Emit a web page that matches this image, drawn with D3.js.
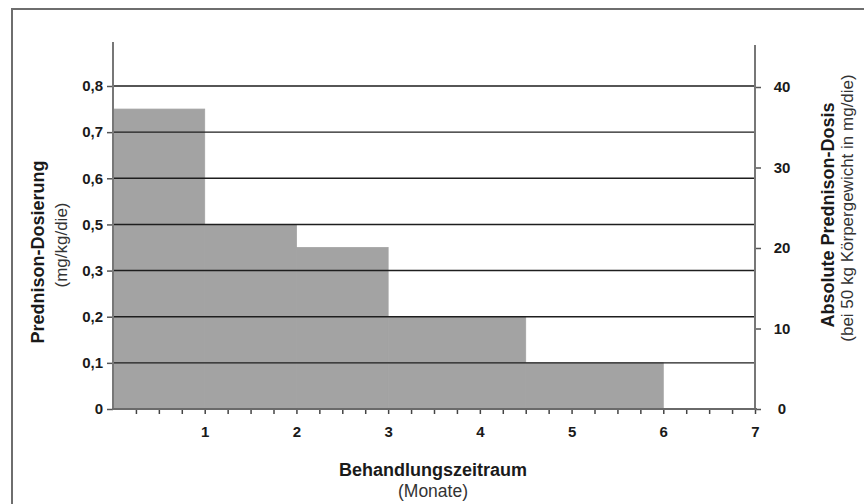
<!DOCTYPE html>
<html>
<head>
<meta charset="utf-8">
<script src="https://cdn.jsdelivr.net/npm/d3@7"></script>
<style>
  html, body { margin: 0; padding: 0; background: #fff; }
  svg { display: block; font-family: "Liberation Sans", Arial, sans-serif; }
</style>
</head>
<body>
<svg id="chart" width="864" height="504"></svg>
<script>
// ---- data ----
const barStart = [0, 1, 2, 3, 4.5];
const barEnd   = [1, 2, 3, 4.5, 6];
const doseMgKg = [0.75, 0.5, 0.4, 0.2, 0.1];

const leftTickValues = [0, 0.1, 0.2, 0.3, 0.5, 0.6, 0.7, 0.8];
const leftTickLabels = ["0", "0,1", "0,2", "0,3", "0,5", "0,6", "0,7", "0,8"];
const rightTickValues = [0, 10, 20, 30, 40];
const xTickValues = [1, 2, 3, 4, 5, 6, 7];

const leftTitle = "Prednison-Dosierung";
const leftSub = "(mg/kg/die)";
const rightTitle = "Absolute Prednison-Dosis";
const rightSub = "(bei 50 kg Körpergewicht in mg/die)";
const xTitle = "Behandlungszeitraum";
const xSub = "(Monate)";

// ---- layout ----
const x0 = 113, x1 = 755, yBottom = 409, yTop = 86;
const svg = d3.select("#chart");

// frame
svg.append("path")
  .attr("d", "M12,504 L12,9 L864,9")
  .attr("fill", "none").attr("stroke", "#6e6e6e").attr("stroke-width", 2);

const x = d3.scaleLinear().domain([0, 7]).range([x0, x1]);
// left axis: labels evenly spaced (0,4 is not shown in the original)
const yL = d3.scaleLinear()
  .domain(leftTickValues)
  .range(leftTickValues.map((d, i) => yBottom - i * (yBottom - yTop) / (leftTickValues.length - 1)));
const yR = d3.scaleLinear().domain([0, 40]).range([yBottom, 87]);

// bars
const bars = barStart.map((s, i) => ({ s, e: barEnd[i], v: doseMgKg[i] }));
svg.append("g").selectAll("rect").data(bars).join("rect")
  .attr("x", d => x(d.s))
  .attr("width", d => x(d.e) - x(d.s))
  .attr("y", d => yL(d.v))
  .attr("height", d => yBottom - yL(d.v))
  .attr("fill", "#a3a3a3")
  .attr("stroke", "#a3a3a3").attr("stroke-width", 0.8);

// gridlines
svg.append("g").selectAll("line").data(leftTickValues.slice(1)).join("line")
  .attr("x1", x0).attr("x2", x1 - 1)
  .attr("y1", d => yL(d)).attr("y2", d => yL(d))
  .attr("stroke", "#1e1e1e").attr("stroke-width", 1.4);

// left axis
const gL = svg.append("g").attr("transform", `translate(${x0},0)`)
  .call(d3.axisLeft(yL).tickValues(leftTickValues)
    .tickFormat((d, i) => leftTickLabels[i]).tickSize(6).tickPadding(4));
gL.select(".domain").remove();
gL.selectAll(".tick line").attr("stroke", "#555").attr("stroke-width", 1.5);
gL.selectAll(".tick text").attr("font-size", 15).attr("font-weight", "bold")
  .attr("fill", "#1a1a1a").attr("font-family", "Liberation Sans, Arial, sans-serif");
svg.append("line").attr("x1", x0).attr("x2", x0).attr("y1", 42).attr("y2", yBottom + 1)
  .attr("stroke", "#777").attr("stroke-width", 2);

// right axis
const gR = svg.append("g").attr("transform", `translate(${x1},0)`)
  .call(d3.axisRight(yR).tickValues(rightTickValues).tickSize(6).tickPadding(14));
gR.select(".domain").remove();
gR.selectAll(".tick line").attr("stroke", "#555").attr("stroke-width", 1.5);
gR.selectAll(".tick text").attr("font-size", 15).attr("font-weight", "bold")
  .attr("fill", "#1a1a1a").attr("text-anchor", "middle").attr("x", 27)
  .attr("font-family", "Liberation Sans, Arial, sans-serif");
svg.append("line").attr("x1", x1).attr("x2", x1).attr("y1", 45).attr("y2", yBottom + 1)
  .attr("stroke", "#777").attr("stroke-width", 2);

// x axis
const minor = d3.range(1, 29).map(i => i / 4);
const gX = svg.append("g").attr("transform", `translate(0,${yBottom})`)
  .call(d3.axisBottom(x).tickValues(minor)
    .tickFormat(d => xTickValues.includes(d) ? String(d) : "").tickSize(5).tickPadding(12));
gX.select(".domain").remove();
gX.selectAll(".tick line").attr("stroke", "#444").attr("stroke-width", 1.5);
gX.selectAll(".tick text").attr("font-size", 15).attr("font-weight", "bold")
  .attr("fill", "#1a1a1a").attr("font-family", "Liberation Sans, Arial, sans-serif");
svg.append("line").attr("x1", x0 - 1).attr("x2", x1 + 2).attr("y1", yBottom).attr("y2", yBottom)
  .attr("stroke", "#6a6a6a").attr("stroke-width", 2.2);

// titles
svg.append("text").attr("x", 433).attr("y", 476).attr("text-anchor", "middle")
  .attr("font-size", 18).attr("font-weight", "bold").attr("fill", "#1a1a1a").text(xTitle);
svg.append("text").attr("x", 433).attr("y", 497).attr("text-anchor", "middle")
  .attr("font-size", 17.5).attr("fill", "#333").text(xSub);

svg.append("text").attr("transform", "translate(44,252) rotate(-90)").attr("text-anchor", "middle")
  .attr("font-size", 18).attr("font-weight", "bold").attr("fill", "#1a1a1a").text(leftTitle);
svg.append("text").attr("transform", "translate(67,245) rotate(-90)").attr("text-anchor", "middle")
  .attr("font-size", 17).attr("fill", "#333").text(leftSub);

svg.append("text").attr("transform", "translate(834,215) rotate(-90)").attr("text-anchor", "middle")
  .attr("font-size", 18).attr("font-weight", "bold").attr("fill", "#1a1a1a").text(rightTitle);
svg.append("text").attr("transform", "translate(853,208) rotate(-90)").attr("text-anchor", "middle")
  .attr("font-size", 17).attr("fill", "#333").text(rightSub);
</script>
</body>
</html>
